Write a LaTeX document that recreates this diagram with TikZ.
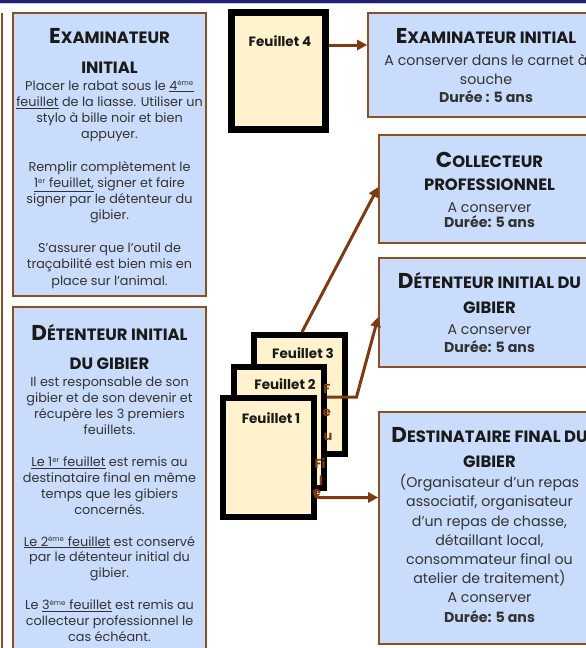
\documentclass[tikz,border=0pt]{standalone}
\usepackage{fontspec}
\setmainfont{Poppins}
\usetikzlibrary{arrows.meta}
\definecolor{boxfill}{HTML}{CADCFB}
\definecolor{boxline}{HTML}{8E4F24}
\definecolor{arrowc}{HTML}{7E3A10}
\definecolor{sheetfill}{HTML}{FFF2CC}
\definecolor{bodyc}{HTML}{333333}
\definecolor{titlec}{HTML}{1A1A1A}
\definecolor{navy}{HTML}{1F1F78}
\newcommand\bgcapx[1]{{\fontsize{21.5}{25}\selectfont #1}}
\newcommand\ttlx[2]{\bgcapx{#1}#2}
\newcommand\supx[1]{\textsuperscript{\fontsize{7}{7}\selectfont #1}}
\tikzset{
  infobox/.style={draw=boxline, fill=boxfill, line width=1.6pt, inner sep=0pt},
  sheet/.style={draw=black, fill=sheetfill, line width=6pt, inner sep=0pt},
  titletext/.style={inner sep=0pt, align=center, font=\bfseries\fontsize{16.4}{25}\selectfont, text=titlec},
  bodyl/.style={inner sep=0pt, align=center, font=\fontsize{12.8}{16.2}\selectfont, text=bodyc},
  bodyr/.style={inner sep=0pt, align=center, font=\fontsize{14.2}{18.5}\selectfont, text=bodyc},
  sheetlabel/.style={inner sep=0pt, font=\bfseries\fontsize{13.5}{14}\selectfont, text=titlec},
  brownletter/.style={inner sep=0pt, font=\bfseries\fontsize{13}{14}\selectfont, text=arrowc},
  arr/.style={draw=arrowc, line width=3pt, -{Triangle[length=10pt,width=10pt]}}
}
\begin{document}
\begin{tikzpicture}[x=1pt,y=-1pt]
\useasboundingbox (0,0) rectangle (586,648);
\fill[white] (0,0) rectangle (586,648);
% top band
\fill[navy] (0,0) rectangle (586,3);
\fill[gray!40] (0,3) rectangle (586,4);
% cut box at left edge
\draw[boxline, line width=1.6pt] (1.8,13) -- (1.8,660);

% left boxes
\node[infobox, minimum width=193pt, minimum height=283pt] (l1) at (109.5,154.5) {};
\node[infobox, minimum width=193pt, minimum height=393pt] (l2) at (109.5,503.5) {};
% right boxes
\node[infobox, minimum width=236pt, minimum height=104pt] (r1) at (486,65) {};
\node[infobox, minimum width=221pt, minimum height=108pt] (r2) at (489.5,189) {};
\node[infobox, minimum width=221pt, minimum height=109pt] (r3) at (489.5,312.5) {};
\node[infobox, minimum width=221pt, minimum height=232pt] (r4) at (489.5,528) {};

% left box 1 text
\node[titletext, anchor=north] (l1t) at (109.5,28) {\ttlx{E}{XAMINATEUR}\\[5pt]INITIAL};
\node[bodyl, anchor=north] (l1b) at (109.5,80) {Placer le rabat sous le \underline{4\supx{ème}}\\
\underline{feuillet} de la liasse. Utiliser un\\
stylo à bille noir et bien\\
appuyer.\\[16.5pt]
Remplir complètement le\\
\underline{1\supx{er} feuillet,} signer et faire\\
signer par le détenteur du\\
gibier.\\[16.5pt]
S’assurer que l’outil de\\
traçabilité est bien mis en\\
place sur l’animal.};

% left box 2 text
\node[titletext, anchor=north] (l2t) at (109.5,324.5) {\ttlx{D}{ÉTENTEUR INITIAL}\\[4pt]DU GIBIER};
\node[bodyl, anchor=north, font=\fontsize{12.8}{15.8}\selectfont] (l2b) at (109.5,377) {Il est responsable de son\\
gibier et de son devenir et\\
récupère les 3 premiers\\
feuillets.\\[17pt]
\underline{Le 1\supx{er} feuillet} est remis au\\
destinataire final en même\\
temps que les gibiers\\
concernés.\\[16pt]
\underline{Le 2\supx{ème} feuillet} est conservé\\
par le détenteur initial du\\
gibier.\\[16pt]
Le \underline{3\supx{ème} feuillet} est remis au\\
collecteur professionnel le\\
cas échéant.};

% right box texts
\node[titletext, anchor=north] (r1t) at (486,28) {\ttlx{E}{XAMINATEUR INITIAL}};
\node[bodyr, anchor=north] (r1b) at (486,54.3) {A conserver dans le carnet à\\souche\\\textbf{Durée : 5 ans}};

\node[titletext, anchor=north] (r2t) at (489.5,152) {\ttlx{C}{OLLECTEUR}\\[-2pt]PROFESSIONNEL};
\node[bodyr, anchor=north] (r2b) at (489.5,202.3) {A conserver\\[-3.5pt]\textbf{Durée: 5 ans}};

\node[titletext, anchor=north] (r3t) at (489.5,272) {\ttlx{D}{ÉTENTEUR INITIAL DU}\\GIBIER};
\node[bodyr, anchor=north] (r3b) at (489.5,324.3) {A conserver\\\textbf{Durée: 5 ans}};

\node[titletext, anchor=north] (r4t) at (489.5,427) {\ttlx{D}{ESTINATAIRE FINAL DU}\\GIBIER};
\node[bodyr, anchor=north, font=\fontsize{14.2}{19.2}\selectfont] (r4b) at (489.5,474.3) {(Organisateur d’un repas\\
associatif, organisateur\\
d’un repas de chasse,\\
détaillant local,\\
consommateur final ou\\
atelier de traitement)\\
A conserver\\
\textbf{Durée: 5 ans}};

% sheets
\node[sheet, line width=7pt, minimum width=94pt, minimum height=117pt] (f4) at (278.5,71) {};
\node[sheet, minimum width=91pt, minimum height=119pt] (f3) at (299.5,394.5) {};
\node[sheet, minimum width=90pt, minimum height=121pt] (f2) at (278.5,427.5) {};
\node[sheet, minimum width=91pt, minimum height=119pt] (f1) at (268.5,457.5) {};

\node[sheetlabel] (f4l) at (280,41) {Feuillet 4};
\node[sheetlabel] (f3l) at (303,353) {Feuillet 3};
\node[sheetlabel] (f2l) at (285,384) {Feuillet 2};
\node[sheetlabel] (f1l) at (271,418) {Feuillet 1};

% vertical brown letters
\node[brownletter] (v1) at (327,389) {F};
\node[brownletter] (v2) at (327,413) {e};
\node[brownletter] (v3) at (328,437) {u};
\node[brownletter] (v4) at (320,463) {Fi};
\node[brownletter] (v5) at (321,481) {l};
\node[brownletter] (v6) at (317,493) {e};

% arrows
\draw[arr] ([yshift=26pt]f4.east) -- ([yshift=20pt]r1.west);
\draw[arr] ([xshift=2.5pt]f3.north) -- ([yshift=2pt]r2.west);
\draw[arr] ([yshift=30.5pt]f2.east) -- ++(30,0) -- ([yshift=-4.5pt]r3.west);
\draw[arr, rounded corners=4pt] ([xshift=-2pt,yshift=-32pt]f1.east) |- ([yshift=30.5pt]r4.west);
\end{tikzpicture}
\end{document}
